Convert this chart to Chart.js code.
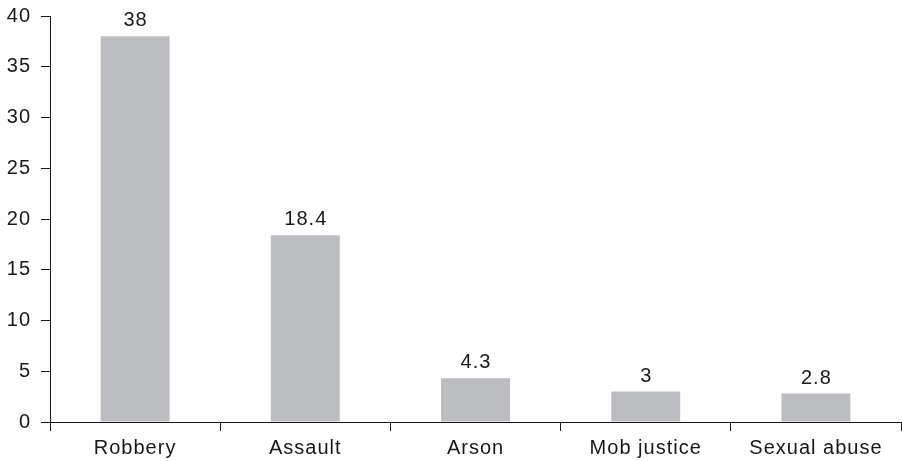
<!DOCTYPE html>
<html>
<head>
<meta charset="utf-8">
<title>Crime types</title>
<script src="https://cdn.jsdelivr.net/npm/chart.js@4.4.0/dist/chart.umd.min.js"></script>
<style>
    html, body { margin: 0; padding: 0; background: #ffffff; }
    #wrap { position: relative; width: 902px; height: 461px; }
</style>
</head>
<body>
<div id="wrap"><canvas id="barChart"></canvas></div>
<script>
// Chart data
const categories = ['Robbery', 'Assault', 'Arson', 'Mob justice', 'Sexual abuse'];
const values = [38, 18.4, 4.3, 3, 2.8];
const yTicks = [0, 5, 10, 15, 20, 25, 30, 35, 40];

const inkColor = '#1a1718';
const barColor = '#bcbdc0';
const fontFamily = '"Liberation Sans", Arial, Helvetica, sans-serif';
const fontSize = 20;
const spacing = '1px';

// Slightly wider letter spacing to match the original typeface
const letterSpacingPlugin = {
    id: 'letterSpacing',
    beforeInit(chart) { chart.ctx.letterSpacing = spacing; },
    beforeUpdate(chart) { chart.ctx.letterSpacing = spacing; },
    beforeDraw(chart) { chart.ctx.letterSpacing = spacing; }
};

// Write the value above each bar
const valueLabels = {
    id: 'valueLabels',
    afterDatasetsDraw(chart) {
        const ctx = chart.ctx;
        const meta = chart.getDatasetMeta(0);
        ctx.save();
        ctx.letterSpacing = spacing;
        ctx.font = fontSize + 'px ' + fontFamily;
        ctx.fillStyle = inkColor;
        ctx.textAlign = 'center';
        ctx.textBaseline = 'alphabetic';
        meta.data.forEach((bar, i) => {
            ctx.fillText(String(values[i]), bar.x + 0.5, bar.y - 10);
        });
        ctx.restore();
    }
};

const ctx = document.getElementById('barChart').getContext('2d');
new Chart(ctx, {
    type: 'bar',
    data: {
        labels: categories,
        datasets: [{
            data: values,
            backgroundColor: barColor,
            borderWidth: 0,
            categoryPercentage: 1,
            barPercentage: 0.405
        }]
    },
    options: {
        responsive: true,
        maintainAspectRatio: false,
        animation: false,
        layout: { padding: { top: 16, right: 1, bottom: 0, left: 0 } },
        plugins: {
            legend: { display: false },
            tooltip: { enabled: false }
        },
        scales: {
            x: {
                grid: {
                    offset: true,
                    drawOnChartArea: false,
                    drawTicks: true,
                    tickLength: 9,
                    color: inkColor,
                    lineWidth: 1
                },
                border: { display: true, color: inkColor, width: 1 },
                ticks: {
                    color: inkColor,
                    font: { family: fontFamily, size: fontSize },
                    padding: 5,
                    maxRotation: 0
                },
                afterFit(scale) {
                    scale.height = 39;
                    scale.paddingLeft = 0;
                    scale.paddingRight = 0;
                }
            },
            y: {
                min: 0,
                max: 40,
                afterBuildTicks(scale) { scale.ticks = yTicks.map(v => ({ value: v })); },
                grid: {
                    drawOnChartArea: false,
                    drawTicks: true,
                    tickLength: 9,
                    color: inkColor,
                    lineWidth: 1
                },
                border: { display: true, color: inkColor, width: 1 },
                ticks: {
                    color: inkColor,
                    font: { family: fontFamily, size: fontSize },
                    padding: 10
                },
                afterFit(scale) {
                    scale.width = 50;
                    scale.paddingTop = 0;
                    scale.paddingBottom = 0;
                }
            }
        }
    },
    plugins: [letterSpacingPlugin, valueLabels]
});
</script>
</body>
</html>
